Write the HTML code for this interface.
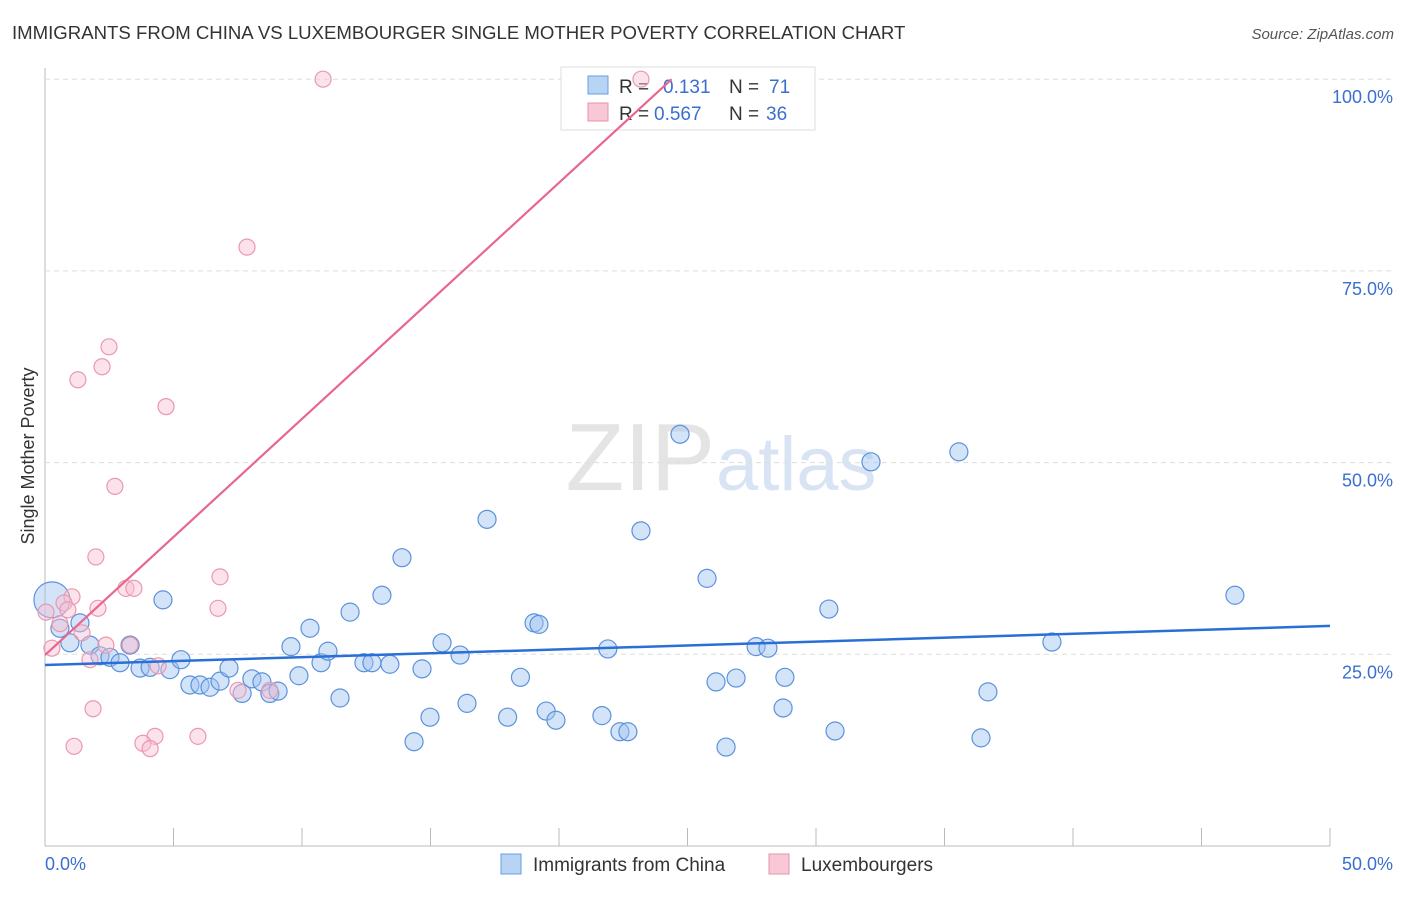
<!DOCTYPE html>
<html><head><meta charset="utf-8"><style>
body{margin:0;background:#fff;font-family:"Liberation Sans",sans-serif;}
svg text{font-family:"Liberation Sans",sans-serif;}
</style></head><body>
<svg id="c" width="1406" height="892" xmlns="http://www.w3.org/2000/svg">
<text x="12" y="39" font-size="18.6" fill="#333">IMMIGRANTS FROM CHINA VS LUXEMBOURGER SINGLE MOTHER POVERTY CORRELATION CHART</text>
<text x="1394" y="39" font-size="15" fill="#555" font-style="italic" text-anchor="end">Source: ZipAtlas.com</text>
<text x="715" y="490" font-size="96" fill="#e4e4e4" text-anchor="end" font-family="Liberation Serif">ZIP</text>
<text x="716" y="490" font-size="76" fill="#d8e4f4">atlas</text>
<text x="34" y="456" font-size="18" fill="#333" text-anchor="middle" transform="rotate(-90 34 456)">Single Mother Poverty</text>
<g id="grid"></g>
<g>
<rect x="561" y="67" width="254" height="63" fill="#fff" stroke="#ddd"/>
<rect x="588" y="76" width="20" height="18" fill="#b8d4f4" stroke="#6a9de0"/>
<rect x="588" y="103" width="20" height="18" fill="#f8c8d6" stroke="#e890ac"/>
<text x="619" y="93" font-size="19" fill="#333">R =</text><text x="663" y="93" font-size="19" fill="#3a6fd0">0.131</text>
<text x="729" y="93" font-size="19" fill="#333">N =</text><text x="769" y="93" font-size="19" fill="#3a6fd0">71</text>
<text x="619" y="120" font-size="19" fill="#333">R =</text><text x="654" y="120" font-size="19" fill="#3a6fd0">0.567</text>
<text x="729" y="120" font-size="19" fill="#333">N =</text><text x="766" y="120" font-size="19" fill="#3a6fd0">36</text>
</g>
<g id="pts"></g><g id="lines"></g>
<g>
<rect x="501" y="854" width="20" height="20" fill="#b8d4f4" stroke="#6a9de0"/>
<text x="533" y="871" font-size="19" fill="#333">Immigrants from China</text>
<rect x="769" y="854" width="20" height="20" fill="#f8c8d6" stroke="#e890ac"/>
<text x="801" y="871" font-size="19" fill="#333">Luxembourgers</text>
</g>
</svg>
<script>
const yTicks=[25,50,75,100];
const yTickLabels=["25.0%","50.0%","75.0%","100.0%"];
const xTickLabels=["0.0%","50.0%"];
const chinaX=[0.27,0.58,0.97,1.36,1.75,2.14,2.53,2.92,3.31,3.70,4.09,4.59,4.86,5.29,5.64,6.03,6.42,6.81,7.16,7.67,8.05,8.44,8.75,9.07,9.57,9.88,10.31,10.74,11.01,11.48,11.87,12.41,12.72,13.11,13.42,13.89,14.36,14.67,14.98,15.45,16.15,16.42,17.2,18.0,18.5,19.03,19.22,19.5,19.88,21.67,21.9,22.37,22.68,23.19,24.71,25.76,26.11,26.5,26.89,27.67,28.13,28.72,28.79,30.5,30.74,32.14,35.56,36.42,36.69,39.18,46.3];
const chinaY=[32.1,28.4,26.5,29.1,26.2,24.8,24.6,23.9,26.2,23.2,23.3,32.1,23.0,24.3,21.0,21.0,20.7,21.5,23.2,19.9,21.8,21.4,19.9,20.2,26.0,22.2,28.4,23.9,25.4,19.3,30.5,23.9,23.9,32.7,23.7,37.6,13.6,23.1,16.8,26.5,24.9,18.6,42.6,16.8,22.0,29.1,28.9,17.6,16.4,17.0,25.7,14.9,14.9,41.1,53.7,34.9,21.4,12.9,21.9,26.0,25.8,18.0,22.0,30.9,15.0,50.1,51.4,14.1,20.1,26.6,32.7];
const luxX=[10.82,7.86,2.49,2.22,1.28,4.71,2.72,1.98,6.81,3.15,3.46,1.05,0.74,6.73,2.06,0.89,0.04,0.58,1.44,3.31,2.37,0.27,1.75,4.4,7.51,8.75,1.87,4.28,3.81,4.09,5.95,1.13,23.19];
const luxY=[100,78.1,65.1,62.5,60.8,57.3,46.9,37.7,35.1,33.6,33.6,32.5,31.7,31.0,31.0,30.8,30.5,29.0,27.8,26.2,26.2,25.8,24.3,23.5,20.3,20.3,17.9,14.3,13.4,12.7,14.3,13.0,100];
const chinaTrend=[23.6,28.7];
const luxTrend=[24.9,3.08];
const NS="http://www.w3.org/2000/svg";
const X=v=>45+v/50*1285, Y=v=>846-v/25*191.7;
function mk(t,a,p){const e=document.createElementNS(NS,t);for(const k in a)e.setAttribute(k,a[k]);p.appendChild(e);return e;}
const g=document.getElementById('grid');
mk('line',{x1:45,y1:68,x2:45,y2:846,stroke:'#bbb'},g);
mk('line',{x1:45,y1:846,x2:1330,y2:846,stroke:'#bbb'},g);
for(let i=0;i<=10;i++){const t=mk('line',{x1:X(i*5),y1:828,x2:X(i*5),y2:846,stroke:'#bbb'},g);

}
yTicks.forEach((v,i)=>{const l=mk('line',{x1:45,y1:Y(v),x2:1394,y2:Y(v),stroke:'#ddd','stroke-dasharray':'5,4'},g);


const t=mk('text',{x:1393,y:Y(v)+24,'font-size':18,fill:'#3a6fd0','text-anchor':'end'},g);t.textContent=yTickLabels[i];

});
const xl=mk('text',{x:45,y:870,'font-size':18,fill:'#3a6fd0'},g);xl.textContent=xTickLabels[0];


const xr=mk('text',{x:1393,y:870,'font-size':18,fill:'#3a6fd0','text-anchor':'end'},g);xr.textContent=xTickLabels[1];


const p=document.getElementById('pts');
chinaX.forEach((x,i)=>{const c=mk('circle',{cx:X(x),cy:Y(chinaY[i]),r:i==0?18:9,fill:'rgba(160,196,240,0.45)',stroke:'#5b92dc','stroke-width':1.2},p);

});
luxX.forEach((x,i)=>{const c=mk('circle',{cx:X(x),cy:Y(luxY[i]),r:8,fill:'rgba(248,190,208,0.45)',stroke:'#eb98b2','stroke-width':1.2},p);

});
const L=document.getElementById('lines');
const bl=mk('line',{x1:X(0),y1:Y(chinaTrend[0]),x2:X(50),y2:Y(chinaTrend[1]),stroke:'#2a6fd6','stroke-width':2.5},L);


const xe=(100-luxTrend[0])/luxTrend[1];
const pl=mk('line',{x1:X(0),y1:Y(luxTrend[0]),x2:X(xe),y2:Y(100),stroke:'#e8678f','stroke-width':2.2},L);


</script>
</body></html>
